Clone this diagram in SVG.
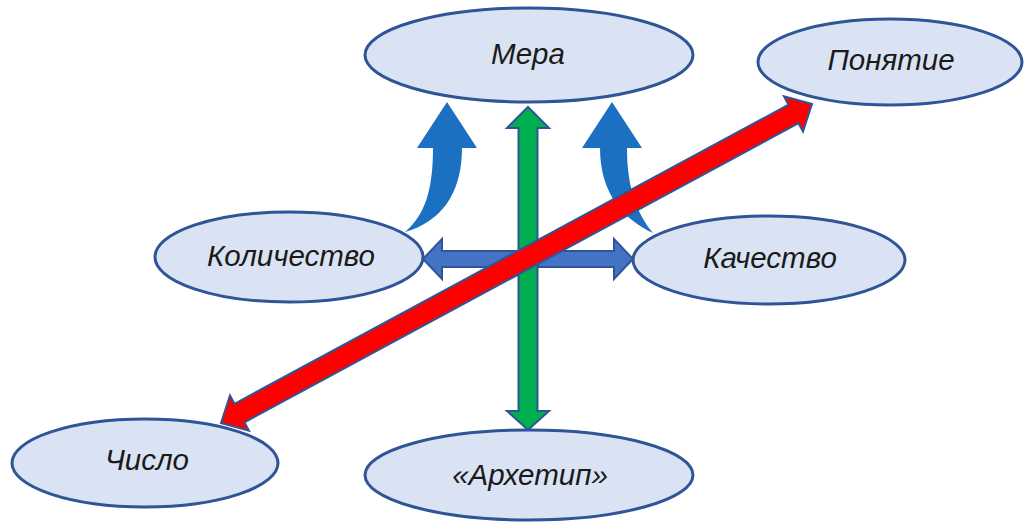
<svg xmlns="http://www.w3.org/2000/svg" width="1027" height="524" viewBox="0 0 1027 524">
  <style>
    .node ellipse { fill: #dae3f3; stroke: #2f5597; stroke-width: 3; }
    .node text { font-family: "Liberation Sans", Arial, sans-serif; font-style: italic; font-size: 29.5px; fill: #1a1a1a; text-anchor: middle; }
    .arrow { stroke: #2f5597; stroke-width: 2; stroke-linejoin: miter; }
    .curved { fill: #1f70c1; filter: url(#soft); }
  </style>
  <defs>
    <filter id="soft" x="-20%" y="-20%" width="140%" height="140%">
      <feGaussianBlur stdDeviation="0.7"/>
    </filter>
  </defs>
  <rect width="1027" height="524" fill="#ffffff"/>

  <!-- nodes -->
  <g id="node-mera" class="node">
    <ellipse cx="529" cy="55" rx="164" ry="47"/>
    <text x="528" y="64">Мера</text>
  </g>
  <g id="node-ponyatie" class="node">
    <ellipse cx="890" cy="62" rx="132" ry="43"/>
    <text x="891" y="70">Понятие</text>
  </g>
  <g id="node-kolichestvo" class="node">
    <ellipse cx="289" cy="257" rx="134" ry="45"/>
    <text x="291" y="266">Количество</text>
  </g>
  <g id="node-kachestvo" class="node">
    <ellipse cx="769" cy="260" rx="136" ry="44"/>
    <text x="770" y="268">Качество</text>
  </g>
  <g id="node-chislo" class="node">
    <ellipse cx="145" cy="463" rx="133" ry="44"/>
    <text x="147" y="470">Число</text>
  </g>
  <g id="node-arkhetip" class="node">
    <ellipse cx="529" cy="475" rx="164" ry="45"/>
    <text x="530" y="485">«Архетип»</text>
  </g>

  <!-- connectors -->
  <g id="connectors">
    <!-- curved arrows rising into Мера -->
    <path class="curved" d="M405 232 C425 215 433 190 433 148 L417 148 L447 102 L477 148 L462 148 C462 195 440 222 405 232 Z"/>
    <path class="curved" d="M653 233 C625 220 600 195 600 148 L582 148 L612 102 L642 148 L627 148 C627 190 638 215 653 233 Z"/>
    <!-- Количество ↔ Качество -->
    <path class="arrow" fill="#4472c4" d="M423 259 L442 239 L442 251 L614 251 L614 239 L633 259 L614 279 L614 267 L442 267 L442 279 Z"/>
    <!-- Мера ↔ «Архетип» -->
    <path class="arrow" fill="#00b050" d="M528 107 L549 128 L537.5 128 L537.5 411 L549 411 L528 430 L507 411 L518.5 411 L518.5 128 L507 128 Z"/>
    <!-- Число ↔ Понятие -->
    <path class="arrow" fill="#ff0000" transform="translate(221 423) rotate(-28.36)" d="M0 0 L21 -20 L21 -10.5 L650.6 -10.5 L650.6 -20 L671.6 0 L650.6 20 L650.6 10.5 L21 10.5 L21 20 Z"/>
  </g>
</svg>
